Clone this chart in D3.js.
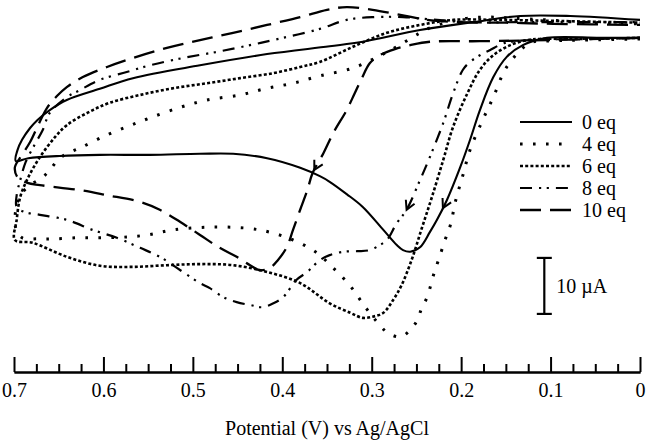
<!DOCTYPE html>
<html><head><meta charset="utf-8">
<script src="https://cdn.jsdelivr.net/npm/d3@7"></script>
<style>body{margin:0;background:#fff}svg{display:block}</style>
</head><body>
<svg id="c" width="654" height="443"></svg>
<script>
// ---- data: [potential (V), current (µA)] ----
const seriesNames = ["0 eq", "4 eq", "6 eq", "8 eq", "10 eq"];
const eq0 = [[0.000,-1.4],[0.045,-1.4],[0.104,-1.4],[0.131,-2.7],[0.149,-4.8],[0.164,-8.4],[0.179,-14.3],[0.190,-19.6],[0.201,-24.5],[0.216,-30.4],[0.227,-33.9],[0.235,-36.1],[0.246,-38.8],[0.257,-39.6],[0.265,-39.3],[0.272,-38.4],[0.287,-35.7],[0.310,-31.6],[0.328,-29.3],[0.347,-27.1],[0.358,-26.1],[0.380,-24.6],[0.417,-22.9],[0.455,-22.1],[0.492,-22.1],[0.548,-22.3],[0.604,-22.3],[0.649,-22.5],[0.684,-22.9],[0.698,-23.4],[0.696,-21.4],[0.691,-19.6],[0.682,-17.5],[0.674,-16.1],[0.660,-14.3],[0.641,-12.5],[0.604,-10.5],[0.567,-8.6],[0.492,-6.3],[0.417,-4.3],[0.347,-2.9],[0.310,-2.1],[0.246,0.0],[0.187,1.4],[0.134,2.5],[0.078,2.5],[0.000,1.8]];
const eq4 = [[0.000,-1.6],[0.067,-1.8],[0.106,-2.0],[0.123,-2.3],[0.149,-6.6],[0.164,-12.0],[0.176,-16.1],[0.190,-21.4],[0.198,-25.9],[0.206,-30.4],[0.212,-34.8],[0.218,-37.5],[0.226,-41.4],[0.231,-43.8],[0.238,-47.7],[0.244,-49.6],[0.249,-51.8],[0.257,-53.6],[0.268,-54.8],[0.282,-54.1],[0.291,-52.7],[0.308,-49.3],[0.324,-45.7],[0.343,-42.5],[0.363,-39.6],[0.388,-37.5],[0.414,-36.1],[0.439,-35.4],[0.481,-35.2],[0.522,-35.7],[0.551,-36.6],[0.578,-37.0],[0.604,-37.1],[0.630,-37.1],[0.656,-37.3],[0.673,-37.3],[0.691,-37.1],[0.698,-35.4],[0.698,-32.1],[0.693,-29.5],[0.682,-27.7],[0.668,-26.3],[0.660,-25.0],[0.649,-22.9],[0.637,-21.8],[0.624,-20.9],[0.601,-19.1],[0.574,-17.3],[0.548,-15.7],[0.514,-13.8],[0.484,-12.5],[0.447,-11.6],[0.417,-10.4],[0.388,-9.5],[0.358,-8.2],[0.321,-6.8],[0.291,-4.6],[0.271,-2.9],[0.248,-0.7],[0.233,0.5],[0.198,2.0],[0.168,2.3],[0.142,2.1],[0.104,1.8],[0.059,1.3],[0.000,1.1]];
const eq6 = [[0.000,-1.4],[0.067,-1.6],[0.112,-1.6],[0.126,-1.8],[0.145,-2.7],[0.164,-4.5],[0.179,-7.1],[0.193,-11.3],[0.209,-17.3],[0.220,-23.2],[0.233,-30.0],[0.244,-35.4],[0.255,-40.9],[0.267,-45.7],[0.276,-48.2],[0.287,-50.5],[0.299,-51.2],[0.310,-51.4],[0.324,-50.5],[0.347,-48.8],[0.380,-45.2],[0.417,-43.2],[0.455,-42.0],[0.492,-41.8],[0.529,-42.0],[0.567,-42.3],[0.604,-42.1],[0.641,-40.5],[0.679,-38.0],[0.699,-37.5],[0.697,-33.9],[0.693,-29.8],[0.684,-26.3],[0.671,-22.7],[0.654,-19.1],[0.641,-17.0],[0.618,-14.8],[0.593,-13.0],[0.559,-11.6],[0.522,-10.4],[0.484,-9.5],[0.447,-8.6],[0.410,-7.7],[0.380,-6.6],[0.358,-5.7],[0.321,-3.0],[0.283,-0.5],[0.246,0.9],[0.209,1.8],[0.157,1.8],[0.089,1.6],[0.000,1.3]];
const eq8 = [[0.000,-1.4],[0.067,-1.6],[0.123,-1.8],[0.151,-2.3],[0.168,-3.6],[0.179,-4.5],[0.190,-5.7],[0.198,-7.1],[0.209,-11.3],[0.220,-16.6],[0.235,-22.7],[0.246,-26.8],[0.261,-32.1],[0.272,-34.5],[0.283,-37.5],[0.291,-38.4],[0.302,-39.3],[0.316,-39.5],[0.332,-39.6],[0.347,-40.2],[0.358,-41.1],[0.372,-43.2],[0.384,-44.6],[0.399,-47.7],[0.410,-48.8],[0.422,-49.5],[0.436,-49.1],[0.451,-48.6],[0.466,-47.7],[0.481,-46.1],[0.492,-45.2],[0.514,-42.9],[0.537,-40.5],[0.559,-38.9],[0.585,-37.1],[0.612,-35.7],[0.641,-33.9],[0.671,-33.0],[0.688,-32.5],[0.697,-31.6],[0.697,-29.5],[0.693,-26.8],[0.687,-23.6],[0.677,-20.5],[0.668,-17.9],[0.660,-14.8],[0.641,-12.0],[0.626,-10.7],[0.604,-8.9],[0.574,-7.5],[0.548,-6.3],[0.511,-5.0],[0.473,-3.9],[0.436,-2.7],[0.399,-1.4],[0.358,0.2],[0.328,1.8],[0.299,2.3],[0.265,2.3],[0.227,1.8],[0.190,1.4],[0.134,1.4],[0.067,1.4],[0.000,1.4]];
const eq10 = [[0.000,-1.4],[0.101,-1.8],[0.179,-2.0],[0.235,-2.1],[0.257,-2.7],[0.274,-3.4],[0.291,-4.5],[0.302,-5.9],[0.311,-8.6],[0.319,-11.3],[0.328,-14.3],[0.343,-18.4],[0.354,-22.0],[0.366,-25.5],[0.372,-28.6],[0.380,-32.1],[0.388,-35.7],[0.395,-38.8],[0.405,-41.1],[0.414,-42.5],[0.425,-42.9],[0.436,-42.0],[0.451,-40.5],[0.470,-38.9],[0.492,-36.6],[0.514,-34.3],[0.537,-32.1],[0.559,-30.7],[0.596,-29.5],[0.626,-28.6],[0.671,-27.7],[0.685,-27.3],[0.696,-26.3],[0.699,-24.5],[0.691,-22.3],[0.682,-20.0],[0.673,-17.0],[0.663,-13.9],[0.652,-11.8],[0.641,-10.2],[0.623,-8.4],[0.596,-6.6],[0.567,-5.0],[0.529,-3.2],[0.492,-1.8],[0.455,-0.5],[0.417,0.9],[0.380,2.3],[0.350,3.6],[0.328,4.1],[0.299,3.6],[0.268,2.7],[0.238,1.8],[0.201,1.4],[0.149,1.3],[0.097,1.1],[0.000,0.9]];

const majorTicks = [0.7, 0.6, 0.5, 0.4, 0.3, 0.2, 0.1, 0];
const majorTickLabels = ["0.7", "0.6", "0.5", "0.4", "0.3", "0.2", "0.1", "0"];
const minorTicks = [0.675, 0.65, 0.625, 0.575, 0.55, 0.525, 0.475, 0.45, 0.425, 0.375, 0.35, 0.325, 0.275, 0.25, 0.225, 0.175, 0.15, 0.125, 0.075, 0.05, 0.025];
const xTitle = "Potential (V) vs Ag/AgCl";
const scaleBarPotential = 0.107;
const scaleBarTopCurrent = -40.7;
const scaleBarSize = 10;
const scaleBarLabel = "10 µA";
// arrows: series index, segment end index, fraction along segment
const arrowSeries = [0, 3, 4];
const arrowSegment = [10, 12, 13];
const arrowFraction = [0.4, 1.0, 0.85];

// ---- drawing ----
const allSeries = [eq0, eq4, eq6, eq8, eq10];
const styles = [
  {dash: null, w: 2.1, cap: "butt"},
  {dash: "2.6 10.4", w: 3, cap: "butt"},
  {dash: "3 2.2", w: 2.6, cap: "butt"},
  {dash: "12 7 2.2 5.5 2.2 7", w: 2.2, cap: "butt"},
  {dash: "21 9", w: 2.3, cap: "butt"}
];
const FONT = "'Liberation Serif','Times New Roman',serif";

const svg = d3.select("#c");
const x = d3.scaleLinear().domain([0.7, 0]).range([14, 640]);
const y = d3.scaleLinear().domain([5, -60]).range([2, 366]);

const line = d3.line().x(d => x(d[0])).y(d => y(d[1])).curve(d3.curveCatmullRom.alpha(0.5));

allSeries.forEach((s, i) => {
  svg.append("path").attr("d", line(s))
    .attr("fill", "none").attr("stroke", "#000")
    .attr("stroke-width", styles[i].w)
    .attr("stroke-dasharray", styles[i].dash)
    .attr("stroke-linecap", styles[i].cap)
    .attr("stroke-linejoin", "round");
});

// arrows
arrowSeries.forEach((si, k) => {
  const s = allSeries[si];
  const j = arrowSegment[k], t = arrowFraction[k];
  const a = [x(s[j-1][0]), y(s[j-1][1])], b = [x(s[j][0]), y(s[j][1])];
  const px = a[0] + (b[0]-a[0])*t, py = a[1] + (b[1]-a[1])*t;
  const ang = Math.atan2(b[1]-a[1], b[0]-a[0]);
  const L = 10, sp = 0.5;
  const p1 = [px - L*Math.cos(ang - sp), py - L*Math.sin(ang - sp)];
  const p2 = [px - L*Math.cos(ang + sp), py - L*Math.sin(ang + sp)];
  svg.append("path").attr("d", `M${p1[0]},${p1[1]}L${px},${py}L${p2[0]},${p2[1]}`)
    .attr("fill", "none").attr("stroke", "#000").attr("stroke-width", 2);
});

// axis
const axisY = 372;
const gMinor = svg.append("g").attr("transform", `translate(0,${axisY})`)
  .call(d3.axisBottom(x).tickValues(minorTicks).tickSize(-8).tickSizeOuter(0).tickFormat(""));
const gMajor = svg.append("g").attr("transform", `translate(0,${axisY})`)
  .call(d3.axisBottom(x).tickValues(majorTicks).tickSize(-15).tickSizeOuter(0).tickPadding(11)
    .tickFormat((d, i) => majorTickLabels[i]));
[gMinor, gMajor].forEach(g => {
  g.selectAll("path,line").attr("stroke", "#000").attr("stroke-width", 2);
  g.selectAll("text").attr("font-family", FONT).attr("font-size", 20).attr("fill", "#000");
});

svg.append("text").attr("x", 327).attr("y", 435).attr("text-anchor", "middle")
  .attr("font-family", FONT).attr("font-size", 20).text(xTitle);

// legend
const legX0 = 520, legX1 = 572, legY0 = 122, legDy = 22;
seriesNames.forEach((n, i) => {
  const yy = legY0 + i*legDy;
  svg.append("line").attr("x1", legX0).attr("x2", legX1).attr("y1", yy).attr("y2", yy)
    .attr("stroke", "#000").attr("stroke-width", styles[i].w)
    .attr("stroke-dasharray", styles[i].dash);
  svg.append("text").attr("x", 582).attr("y", yy + 6.5)
    .attr("font-family", FONT).attr("font-size", 20).text(n);
});

// scale bar
const sbx = x(scaleBarPotential), sy1 = y(scaleBarTopCurrent), sy2 = y(scaleBarTopCurrent - scaleBarSize);
svg.append("line").attr("x1", sbx).attr("x2", sbx).attr("y1", sy1).attr("y2", sy2).attr("stroke", "#000").attr("stroke-width", 2.2);
[sy1, sy2].forEach(v => svg.append("line").attr("x1", sbx-7.5).attr("x2", sbx+7.5).attr("y1", v).attr("y2", v).attr("stroke", "#000").attr("stroke-width", 2.2));
svg.append("text").attr("x", sbx + 12).attr("y", (sy1+sy2)/2 + 7)
  .attr("font-family", FONT).attr("font-size", 20).text(scaleBarLabel);
</script>
</body></html>
